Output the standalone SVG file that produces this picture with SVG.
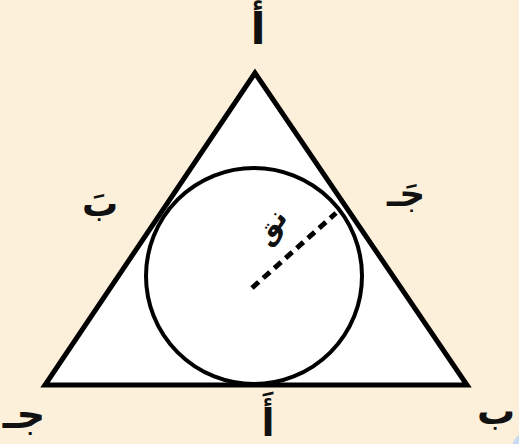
<svg xmlns="http://www.w3.org/2000/svg" width="519" height="444" viewBox="0 0 519 444">
<style>
.lbl{font-family:"DejaVu Sans",sans-serif;fill:#111;text-anchor:middle;font-weight:bold}
.shape{stroke:#000;fill:#fff}
</style>
<rect width="519" height="444" fill="#fcf0da"/>
<g id="triangle"><polygon class="shape" points="255,73 45,385 467,385" stroke-width="5" stroke-linejoin="miter"/></g>
<g id="circle"><circle class="shape" cx="254" cy="276" r="108" stroke-width="4"/></g>
<g id="connectors"><line x1="252" y1="288" x2="336" y2="213" stroke="#000" stroke-width="5" stroke-dasharray="9,6"/></g>
<g id="labels">
<text class="lbl" x="258" y="44" font-size="44" font-weight="normal">أ</text>
<text class="lbl" x="24" y="428" font-size="40">جـ</text>
<text class="lbl" x="496" y="424" font-size="38">ب</text>
<text class="lbl" x="100" y="216" font-size="36">بَ</text>
<text class="lbl" x="406" y="206" font-size="36">جَـ</text>
<text class="lbl" x="268" y="436" font-size="38" font-weight="normal">أَ</text>
<text class="lbl" x="0" y="0" font-size="28" font-weight="normal" transform="translate(278,232) rotate(-55)">نق</text>
</g>
<circle cx="528" cy="448" r="16" fill="#c7dcf2"/>
</svg>
